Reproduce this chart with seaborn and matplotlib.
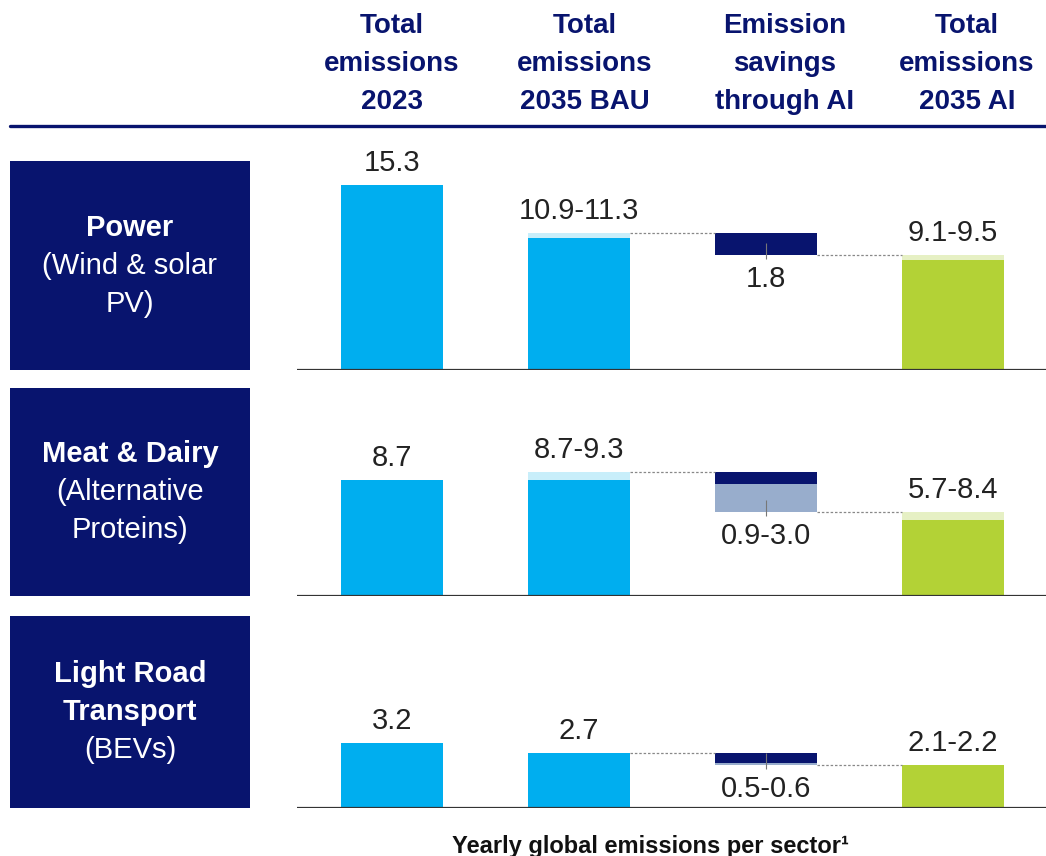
import numpy as np
import pandas as pd
import seaborn as sns
import matplotlib.pyplot as plt
from matplotlib.patches import Rectangle
from matplotlib.lines import Line2D

# data
columns = ["Total emissions 2023", "Total emissions 2035 BAU", "Emission savings through AI", "Total emissions 2035 AI"]
header_lines = [["Total", "emissions", "2023"],
                ["Total", "emissions", "2035 BAU"],
                ["Emission", "savings", "through AI"],
                ["Total", "emissions", "2035 AI"]]
sectors = ["Power", "Meat & Dairy", "Light Road Transport"]
sector_bold = [["Power"], ["Meat & Dairy"], ["Light Road", "Transport"]]
sector_sub = [["(Wind & solar", "PV)"], ["(Alternative", "Proteins)"], ["(BEVs)"]]
em_2023 = [15.3, 8.7, 3.2]
bau_low = [10.9, 8.7, 2.7]
bau_high = [11.3, 9.3, 2.7]
save_low = [1.8, 0.9, 0.5]
save_high = [1.8, 3.0, 0.6]
ai_low = [9.1, 5.7, 2.1]
ai_high = [9.5, 8.4, 2.2]
lbl_2023 = ["15.3", "8.7", "3.2"]
lbl_bau = ["10.9-11.3", "8.7-9.3", "2.7"]
lbl_save = ["1.8", "0.9-3.0", "0.5-0.6"]
lbl_ai = ["9.1-9.5", "5.7-8.4", "2.1-2.2"]

NAVY = "#08146e"
BLUE = "#00aeef"
BLUE_L = "#c8eefa"
SAVE_L = "#98adcc"
GREEN = "#b3d236"
GREEN_L = "#e6f0c4"

sns.set_theme(style="white")
plt.rcParams["font.family"] = ["Liberation Sans", "DejaVu Sans"]

W, H = 1046, 856
fig = plt.figure(figsize=(W / 100, H / 100), dpi=100)

def fx(x):
    return x / W

def fy(y):
    return 1 - y / H

# header
head_x = [392, 585, 785, 967]
for cx, lines in zip(head_x, header_lines):
    for k, t in enumerate(lines):
        fig.text(fx(cx), fy(26 + 38 * k), t, ha="center", va="center", fontsize=20,
                 fontweight="bold", color=NAVY,
                 family=["Liberation Sans Narrow", "Liberation Sans", "DejaVu Sans"])
fig.add_artist(Line2D([fx(10), fx(1046)], [fy(126), fy(126)], color=NAVY, lw=2.4))

# rows: (baseline px, top px, px per unit)
row_geo = [(370, 140, 12.1), (596, 388, 13.3), (808, 616, 20.3)]
box_top = [161, 388, 616]
ax_left, ax_right = 297, 1046
unit = 187.0
bw = 0.545

for i in range(3):
    base, top, scale = row_geo[i]
    ax = fig.add_axes([fx(ax_left), fy(base), (ax_right - ax_left) / W, (base - top) / H])
    df = pd.DataFrame({"col": [columns[0], columns[1], columns[3]],
                       "val": [em_2023[i], bau_low[i], ai_low[i]]})
    sns.barplot(data=df, x="col", y="val", hue="col", order=columns,
                palette={columns[0]: BLUE, columns[1]: BLUE, columns[3]: GREEN},
                width=bw, saturation=1, legend=False, linewidth=0, ax=ax)
    # caps
    ax.bar(1, bau_high[i] - bau_low[i], bottom=bau_low[i], width=bw, color=BLUE_L, lw=0)
    ai_top = bau_high[i] - save_high[i]
    if ai_top > ai_low[i]:
        ax.bar(3, ai_top - ai_low[i], bottom=ai_low[i], width=bw, color=GREEN_L, lw=0)
    # savings
    ax.bar(2, save_low[i], bottom=bau_high[i] - save_low[i], width=bw, color=NAVY, lw=0)
    if save_high[i] > save_low[i]:
        ax.bar(2, save_high[i] - save_low[i], bottom=ai_top, width=bw, color=SAVE_L, lw=0)
    ax.vlines(2, ai_top - 0.3 * 12.1 / scale, ai_top + 1.0 * 12.1 / scale, color="#777777", lw=0.8)
    # connectors
    ax.plot([1 + bw / 2, 2 - bw / 2], [bau_high[i]] * 2, ls=(0, (2, 1.5)), color="#888888", lw=0.9)
    ax.plot([2 + bw / 2, 3 - bw / 2], [ai_top] * 2, ls=(0, (2, 1.5)), color="#888888", lw=0.9)
    # labels
    kw = dict(ha="center", va="center", fontsize=21, color="#222222", textcoords="offset points")
    ax.annotate(lbl_2023[i], (0, em_2023[i]), xytext=(0, 16), **kw)
    ax.annotate(lbl_bau[i], (1, bau_high[i]), xytext=(0, 16), **kw)
    ax.annotate(lbl_save[i], (2, ai_top), xytext=(0, -17), **kw)
    ax.annotate(lbl_ai[i], (3, max(ai_top, ai_low[i])), xytext=(0, 16), **kw)

    ax.set_xlim((ax_left - 392) / unit, (ax_right - 392) / unit)
    ax.set_ylim(0, (base - top) / scale)
    ax.axhline(0, color="#333333", lw=1.6)
    for s in ax.spines.values():
        s.set_visible(False)
    ax.set_xticks([])
    ax.set_yticks([])
    ax.set_xlabel("")
    ax.set_ylabel("")
    ax.patch.set_alpha(0)

    # sector box
    fig.add_artist(Rectangle((fx(10), fy(base)), 240 / W, (base - box_top[i]) / H,
                             color=NAVY, lw=0, transform=fig.transFigure))
    lines = [(t, "bold") for t in sector_bold[i]] + [(t, "normal") for t in sector_sub[i]]
    mid = (base + box_top[i]) / 2
    y0 = mid - 38 * (len(lines) - 1) / 2
    for k, (t, w) in enumerate(lines):
        fig.text(fx(130), fy(y0 + 38 * k), t, ha="center", va="center", fontsize=21,
                 fontweight=w, color="white")

fig.text(fx(650), fy(846), "Yearly global emissions per sector\u00b9", ha="center", va="center",
         fontsize=17, fontweight="bold", color="#111111")

fig.savefig("out.png", dpi=100)
